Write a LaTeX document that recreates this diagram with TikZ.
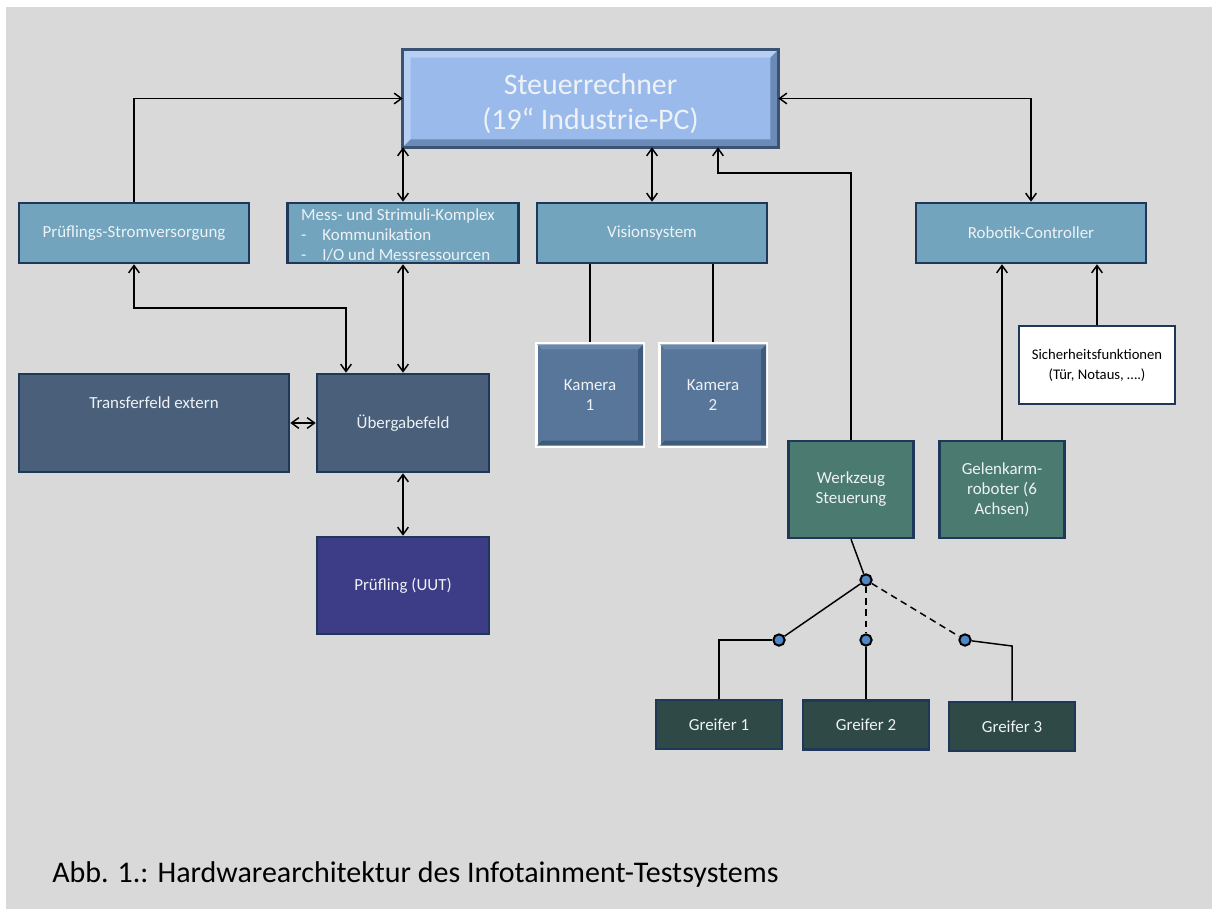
\documentclass[tikz,border=0pt]{standalone}
\usepackage{fontspec}
\setmainfont{Carlito}
\usetikzlibrary{arrows.meta,calc}
\definecolor{bg}{HTML}{D9D9D9}
\definecolor{navy}{HTML}{1F385A}
\definecolor{steuerfill}{HTML}{99BAEA}
\definecolor{steuerlight}{HTML}{B7CFF2}
\definecolor{steuerdark}{HTML}{6A8AB8}
\definecolor{steuerborder}{HTML}{3A5273}
\definecolor{tealfill}{HTML}{72A4BD}
\definecolor{kamfill}{HTML}{58769A}
\definecolor{kamdark}{HTML}{3F5B7C}
\definecolor{kamlight}{HTML}{6A88AA}
\definecolor{slatefill}{HTML}{4A5F7A}
\definecolor{uutfill}{HTML}{3C3C87}
\definecolor{greenfill}{HTML}{4A7A70}
\definecolor{darkgreen}{HTML}{2F4946}
\definecolor{dotfill}{HTML}{4F86C6}
\definecolor{boxtext}{HTML}{EEF2F6}
\begin{document}
\begin{tikzpicture}[x=0.75pt,y=-0.75pt,
  box/.style={draw=navy, line width=1.9pt, inner sep=0pt, align=center, text=boxtext,
    font=\fontsize{12.7}{15}\selectfont},
  lightbox/.style={box, fill=tealfill, minimum width=172.5pt, minimum height=45pt},
  kambox/.style={box, draw=white, line width=2.4pt, fill=kamfill, minimum width=80.25pt, minimum height=76.5pt},
  conn/.style={line width=1.1pt, black},
  arr/.style={conn, -{Straight Barb[length=5.5pt,width=8pt,line width=1.1pt]}},
  darr/.style={conn, {Straight Barb[length=5.5pt,width=8pt,line width=1.1pt]}-{Straight Barb[length=5.5pt,width=8pt,line width=1.1pt]}},
  dot/.style={circle, draw=black, line width=1.5pt, fill=dotfill, minimum size=8.5pt, inner sep=0pt}
]
\fill[bg] (6,7) rectangle (1212,909);
\useasboundingbox (0,0) rectangle (1212,909);

% Steuerrechner with bevel
\node[fill=steuerfill, minimum width=281.25pt, minimum height=72.75pt, inner sep=0pt] (steuer) at (590.5,98.5) {};
\fill[steuerlight] (steuer.north west) -- (steuer.north east) -- ($(steuer.north east)+(-8,8)$) -- ($(steuer.north west)+(8,8)$) -- cycle;
\fill[steuerlight] (steuer.north west) -- (steuer.south west) -- ($(steuer.south west)+(8,-8)$) -- ($(steuer.north west)+(8,8)$) -- cycle;
\fill[steuerdark] (steuer.south west) -- (steuer.south east) -- ($(steuer.south east)+(-8,-8)$) -- ($(steuer.south west)+(8,-8)$) -- cycle;
\fill[steuerdark] (steuer.north east) -- (steuer.south east) -- ($(steuer.south east)+(-8,-8)$) -- ($(steuer.north east)+(-8,8)$) -- cycle;
\draw[steuerborder, line width=2.6pt] (steuer.north west) rectangle (steuer.south east);
\node[text=boxtext, align=center, font=\fontsize{22.4}{26}\selectfont] (steuertext) at (590.5,104) {Steuerrechner\\(19“ Industrie-PC)};

% second row
\node[lightbox] (strom) at (134,233) {Prüflings-Stromversorgung};
\node[lightbox, minimum width=173.25pt] (mess) at (403,233) {};
\node[text=boxtext, inner sep=0pt, font=\fontsize{12.7}{15}\selectfont] (messtext) at (398,236) {%
  \begin{tabular}{@{}l@{\hspace{12pt}}l@{}}
  \multicolumn{2}{@{}c@{}}{Mess- und Strimuli-Komplex}\\
  - & Kommunikation\\
  - & I/O und Messressourcen
  \end{tabular}};
\node[lightbox] (vision) at (652,233) {Visionsystem};
\node[lightbox] (robotik) at (1031,233) {Robotik-Controller};

% cameras
\foreach \n/\x/\t in {kam1/590/1, kam2/713/2}{
  \node[kambox] (\n) at (\x,395) {};
  \fill[kamdark] ($(\n.south west)+(2,-2)$) -- ($(\n.south east)+(-2,-2)$) -- ($(\n.south east)+(-7,-7)$) -- ($(\n.south west)+(7,-7)$) -- cycle;
  \fill[kamdark] ($(\n.north east)+(-2,2)$) -- ($(\n.south east)+(-2,-2)$) -- ($(\n.south east)+(-7,-7)$) -- ($(\n.north east)+(-7,7)$) -- cycle;
  \fill[kamlight] ($(\n.north west)+(2,2)$) -- ($(\n.north east)+(-2,2)$) -- ($(\n.north east)+(-7,7)$) -- ($(\n.north west)+(7,7)$) -- cycle;
  \node[text=boxtext, align=center, font=\fontsize{12.7}{15}\selectfont] at (\x,395) {Kamera\\\t};
}

% Sicherheitsfunktionen
\node[box, fill=white, text=black, minimum width=117pt, minimum height=58.5pt, font=\fontsize{11}{15}\selectfont] (sicher) at (1097,365) {Sicherheitsfunktionen\\(Tür, Notaus, \dots.)};

% left block
\node[box, fill=slatefill, minimum width=202.5pt, minimum height=73.5pt] (transfer) at (154,423) {};
\node[text=boxtext, font=\fontsize{12.7}{15}\selectfont] (transfertext) at (154,403) {Transferfeld extern};
\node[box, fill=slatefill, minimum width=129pt, minimum height=73.5pt] (ueber) at (403,423) {Übergabefeld};
\node[box, fill=uutfill, minimum width=129pt, minimum height=72.75pt] (pruef) at (403,585.5) {Prüfling (UUT)};

% tools / robot
\node[box, fill=greenfill, minimum width=93.75pt, minimum height=72.75pt] (werk) at (851,489.5) {Werkzeug\\Steuerung};
\node[box, fill=greenfill, minimum width=93.75pt, minimum height=72.75pt] (gelenk) at (1002,489.5) {Gelenkarm-\\roboter (6\\Achsen)};

% grippers
\node[box, fill=darkgreen, minimum width=94.5pt, minimum height=36.75pt] (g1) at (719,724.5) {Greifer 1};
\node[box, fill=darkgreen, minimum width=94.5pt, minimum height=36.75pt] (g2) at (866,725) {Greifer 2};
\node[box, fill=darkgreen, minimum width=94.5pt, minimum height=36.75pt] (g3) at (1012,726.5) {Greifer 3};

% connectors to Steuerrechner
\draw[arr] (strom.north) |- (steuer.west);
\draw[darr] (mess.north) -- (mess.north |- steuer.south);
\draw[darr] (vision.north) -- (vision.north |- steuer.south);
\draw[darr] (steuer.east) -| (robotik.north);
\coordinate (wk) at (718,173);
\draw[arr] (werk.north) |- (wk) -- (wk |- steuer.south);

% left connectors
\coordinate (su) at (346,308);
\draw[darr] (strom.south) |- (su) -- (su |- ueber.north);
\draw[darr] (mess.south -| ueber.north) -- (ueber.north);
\draw[darr] (transfer.east) -- (ueber.west);
\draw[darr] (ueber.south) -- (pruef.north);

% cameras
\draw[conn] (vision.south -| kam1.north) -- (kam1.north);
\draw[conn] (vision.south -| kam2.north) -- (kam2.north);

% robot
\draw[arr] (gelenk.north) -- (gelenk.north |- robotik.south);
\draw[arr] (sicher.north) -- (sicher.north |- robotik.south);

% gripper tree
\node[dot] (c0) at (866,580) {};
\node[dot] (c1) at (779,640) {};
\node[dot] (c2) at (866,640) {};
\node[dot] (c3) at (965,640) {};
\draw[conn] (werk.south) -- (c0);
\draw[conn] (c0) -- (c1);
\draw[conn, dashed, dash pattern=on 5pt off 3.5pt] (c0) -- (c2);
\draw[conn, dashed, dash pattern=on 5pt off 3.5pt] (c0) -- (c3);
\draw[conn] (c1.west) -| (g1.north);
\draw[conn] (c2) -- (g2.north);
\coordinate (k3) at (1012,646);
\draw[conn] (c3) -- (k3) -- (g3.north);

% caption
\node[anchor=base west, inner sep=0pt, font=\fontsize{22.5}{26}\selectfont] (caption) at (52,882) {Abb. 1.: Hardwarearchitektur des Infotainment-Testsystems};
\end{tikzpicture}
\end{document}
